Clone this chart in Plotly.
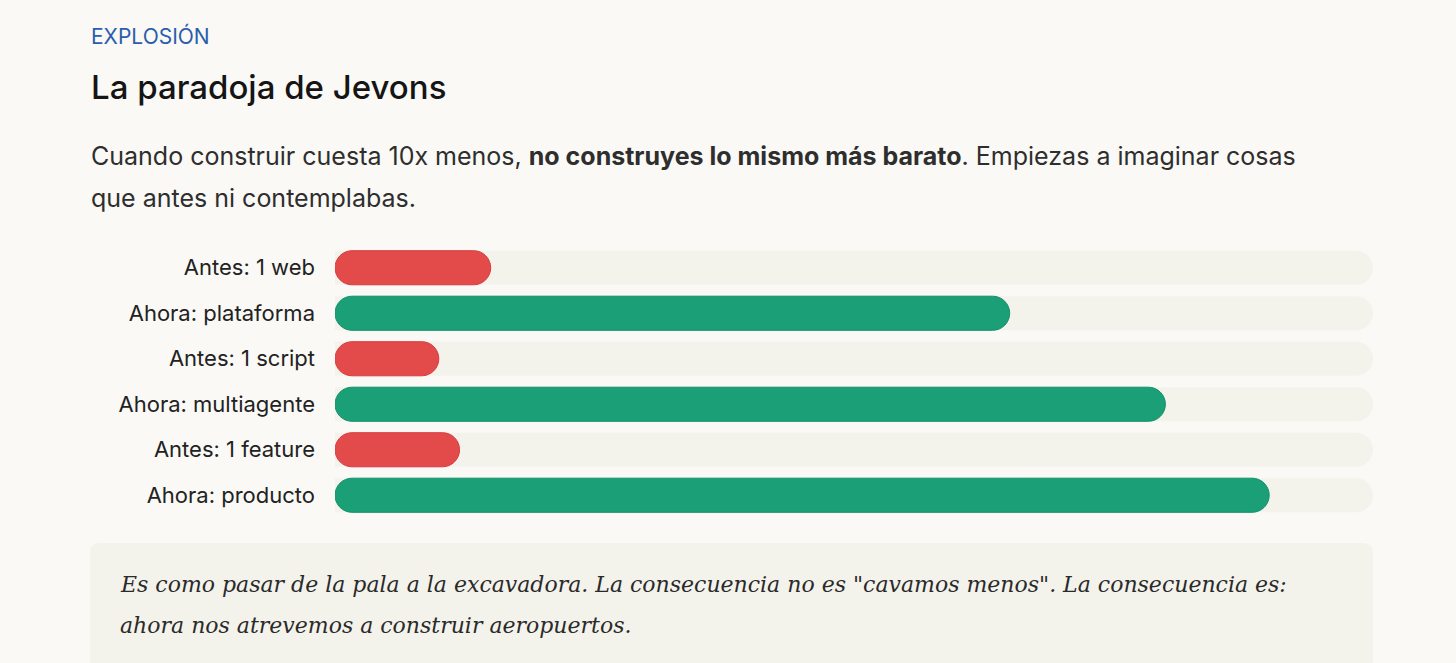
import plotly.graph_objects as go

W, H = 1456, 663
ML, MR, MT, MB = 335, 83, 245, 145

# data
labels = ["Antes: 1 web", "Ahora: plataforma", "Antes: 1 script",
          "Ahora: multiagente", "Antes: 1 feature", "Ahora: producto"]
values = [15, 65, 10, 80, 12, 90]
track_max = 100

kicker = "EXPLOSIÓN"
title = "La paradoja de Jevons"
lead_1 = "Cuando construir cuesta 10x menos, <b>no construyes lo mismo más barato</b>. Empiezas a imaginar cosas"
lead_2 = "que antes ni contemplabas."
quote_1 = 'Es como pasar de la pala a la excavadora. La consecuencia no es "cavamos menos". La consecuencia es:'
quote_2 = "ahora nos atrevemos a construir aeropuertos."

BG = "#FAF9F5"
TRACK = "#F3F2EB"
RED, RED_EDGE = "#E34B4B", "#D93A3E"
GREEN, GREEN_EDGE = "#1A9F76", "#12906A"
SANS = "Inter, 'Noto Sans', sans-serif"
SERIF = "'DejaVu Serif', 'Liberation Serif', serif"

colors = [RED if l.startswith("Antes") else GREEN for l in labels]
edges = [RED_EDGE if l.startswith("Antes") else GREEN_EDGE for l in labels]


def xp(px):
    return (px - ML) / (W - ML - MR)


def yp(py):
    return (H - MB - py) / (H - MT - MB)


fig = go.Figure()

# background track
fig.add_trace(go.Bar(
    y=labels, x=[track_max] * len(labels), orientation="h", width=0.75,
    marker=dict(color=TRACK, cornerradius="50%", line=dict(width=0)),
    hoverinfo="skip",
))
# explicit base -> plotly rounds both ends of the bar
fig.add_trace(go.Bar(
    y=labels, x=values, base=[0] * len(values),
    orientation="h", width=0.75,
    marker=dict(color=colors, cornerradius="50%", line=dict(width=1, color=edges)),
    hovertemplate="%{y}: %{x}<extra></extra>",
))

# callout box with rounded corners
x0, x1, y0, y1, r = 90, 1373, 543, 700, 10
path = (f"M {xp(x0 + r)} {yp(y0)} L {xp(x1 - r)} {yp(y0)} "
        f"Q {xp(x1)} {yp(y0)} {xp(x1)} {yp(y0 + r)} "
        f"L {xp(x1)} {yp(y1)} L {xp(x0)} {yp(y1)} "
        f"L {xp(x0)} {yp(y0 + r)} Q {xp(x0)} {yp(y0)} {xp(x0 + r)} {yp(y0)} Z")
fig.add_shape(type="path", path=path, xref="paper", yref="paper",
              fillcolor=TRACK, line=dict(width=0), layer="below")


def note(text, px, py, size, color, family=SANS, weight=None):
    fig.add_annotation(
        text=text, x=xp(px), y=yp(py), xref="paper", yref="paper",
        xanchor="left", yanchor="middle", showarrow=False, align="left",
        font=dict(size=size, color=color, family=family, weight=weight),
    )


note(kicker, 89, 36, 21, "#2A5EAD")
note(title, 89, 87, 33, "#151515", weight=500)
note(lead_1, 89, 156, 25, "#2E2E2E")
note(lead_2, 89, 198, 25, "#2E2E2E")
note(f"<i>{quote_1}</i>", 118, 584, 22, "#2A2A2A", family=SERIF)
note(f"<i>{quote_2}</i>", 118, 625, 22, "#2A2A2A", family=SERIF)

fig.update_layout(
    width=W, height=H,
    margin=dict(l=ML, r=MR, t=MT, b=MB, autoexpand=False),
    paper_bgcolor=BG, plot_bgcolor=BG,
    barmode="overlay", showlegend=False,
    font=dict(family=SANS, color="#222222"),
)
fig.update_xaxes(range=[0, track_max], visible=False, fixedrange=True)
fig.update_yaxes(
    autorange="reversed", showgrid=False, zeroline=False, showline=False,
    ticks="", ticklabelstandoff=19, tickfont=dict(size=22, color="#222222"),
    fixedrange=True,
)

# drop the default page margin so the figure sits at the window corner
fig.write_html("out.html", config={"displayModeBar": False},
               post_script="document.body.style.margin='0';")
